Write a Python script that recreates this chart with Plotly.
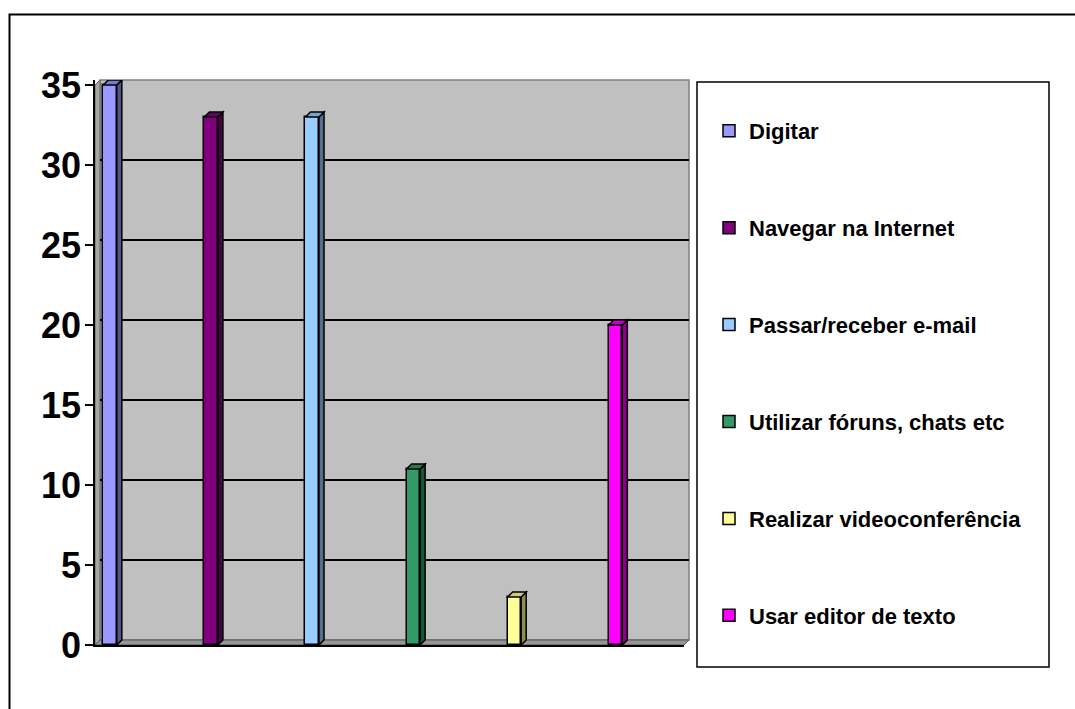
import plotly.graph_objects as go

# ---- data ----
series_names = ["Digitar", "Navegar na Internet", "Passar/receber e-mail",
                "Utilizar fóruns, chats etc", "Realizar videoconferência",
                "Usar editor de texto"]
series_values = [35, 33, 33, 11, 3, 20]
series_colors = ["#9999FF", "#800080", "#99CCFF", "#339966", "#FFFF99", "#FF00FF"]
y_ticks = [0, 5, 10, 15, 20, 25, 30, 35]

# ---- styling / geometry ----
W, H = 1075, 709
FONT = "Liberation Sans, Arial, sans-serif"
BAR_W = 0.134
DEPTH_X = 0.05      # 3-D depth of the bars in x units
DEPTH_Y = 0.3125    # 3-D depth of the bars in y units


def fx(px):
    return px / W


def fy(py):
    return 1 - py / H


def shade(hexcol, f):
    h = hexcol.lstrip("#")
    r, g, b = (int(h[i:i + 2], 16) for i in (0, 2, 4))
    return "#%02x%02x%02x" % (int(r * f), int(g * f), int(b * f))


fig = go.Figure()

# empty trace so that the back-plane subplot (grid lines) is created
fig.add_trace(go.Scatter(x=[], y=[], xaxis="x", yaxis="y", showlegend=False,
                         hoverinfo="skip"))

shapes = []
# outer frame (extends past the picture on right/bottom)
shapes.append(dict(type="rect", xref="paper", yref="paper",
                   x0=fx(9.5), x1=1.2, y0=fy(14.5), y1=-0.2,
                   line=dict(color="black", width=2), layer="below"))
# back wall
shapes.append(dict(type="rect", xref="paper", yref="paper",
                   x0=fx(100), x1=fx(689), y0=fy(640), y1=fy(80),
                   fillcolor="#c0c0c0", line=dict(color="#808080", width=1.5),
                   layer="below"))
# side wall
shapes.append(dict(type="path", xref="paper", yref="paper",
                   path=f"M{fx(95)},{fy(85)} L{fx(100)},{fy(80)} L{fx(100)},{fy(640)} L{fx(95)},{fy(645)} Z",
                   fillcolor="#a6a6a6", line=dict(color="#606060", width=1),
                   layer="below"))
# floor
shapes.append(dict(type="path", xref="paper", yref="paper",
                   path=f"M{fx(95)},{fy(645)} L{fx(100)},{fy(640)} L{fx(689)},{fy(640)} L{fx(684)},{fy(645)} Z",
                   fillcolor="#969696", line=dict(color="#555555", width=1),
                   layer="below"))
# legend box
shapes.append(dict(type="rect", xref="paper", yref="paper",
                   x0=fx(697), x1=fx(1049), y0=fy(667), y1=fy(82),
                   fillcolor="white", line=dict(color="black", width=1.5),
                   layer="below"))

for i, (name, val, col) in enumerate(zip(series_names, series_values, series_colors)):
    fig.add_trace(go.Bar(
        x=[i], y=[val], width=BAR_W, name=name, legendgroup=name,
        marker=dict(color=col, line=dict(color="black", width=1.5)),
        xaxis="x2", yaxis="y2", hoverinfo="name+y"))
    xl, xr = i - BAR_W / 2, i + BAR_W / 2
    # side face
    shapes.append(dict(type="path", xref="x2", yref="y2", layer="above",
                       path=f"M{xr},0 L{xr + DEPTH_X},{DEPTH_Y} L{xr + DEPTH_X},{val + DEPTH_Y} L{xr},{val} Z",
                       fillcolor=shade(col, 0.55), line=dict(color="black", width=1.5)))
    # top face
    shapes.append(dict(type="path", xref="x2", yref="y2", layer="above",
                       path=f"M{xl},{val} L{xl + DEPTH_X},{val + DEPTH_Y} L{xr + DEPTH_X},{val + DEPTH_Y} L{xr},{val} Z",
                       fillcolor=shade(col, 0.8), line=dict(color="black", width=1.5)))

x_left = -15 / 101.1
x_right = x_left + 589 / 101.1

fig.update_layout(
    width=W, height=H,
    margin=dict(l=0, r=0, t=0, b=0, autoexpand=False),
    paper_bgcolor="white", plot_bgcolor="rgba(0,0,0,0)",
    font=dict(family=FONT, color="black"),
    showlegend=True,
    # back plane (grid lines)
    xaxis=dict(domain=[fx(100), fx(689)], anchor="y", range=[0, 1],
               showgrid=False, zeroline=False, showticklabels=False,
               showline=False, ticks="", fixedrange=True),
    yaxis=dict(domain=[fy(640), fy(80)], anchor="x", range=[0, 35],
               tickvals=y_ticks[1:-1], showgrid=True, gridcolor="black",
               gridwidth=2, showticklabels=False, zeroline=False,
               showline=False, ticks=""),
    # front plane (bars, labels)
    xaxis2=dict(domain=[fx(95), fx(684)], anchor="y2", range=[x_left, x_right],
                showgrid=False, zeroline=False, showticklabels=False,
                showline=True, linecolor="black", linewidth=2, ticks=""),
    yaxis2=dict(domain=[fy(645), fy(80)], anchor="x2", range=[0, 35 + DEPTH_Y],
                tickvals=y_ticks, showgrid=False, zeroline=False,
                showline=True, linecolor="black", linewidth=1.5,
                ticks="outside", ticklen=8, tickwidth=1.5, tickcolor="black",
                ticklabelstandoff=-3,
                tickfont=dict(family=FONT, size=36, color="black", weight="bold")),
    legend=dict(x=fx(709), y=fy(110), xanchor="left", yanchor="top",
                bgcolor="rgba(0,0,0,0)", borderwidth=0,
                tracegroupgap=65.3,
                font=dict(family=FONT, size=22, color="black", weight="bold")),
    shapes=shapes,
    bargap=0,
)

fig.write_html("out.html")
